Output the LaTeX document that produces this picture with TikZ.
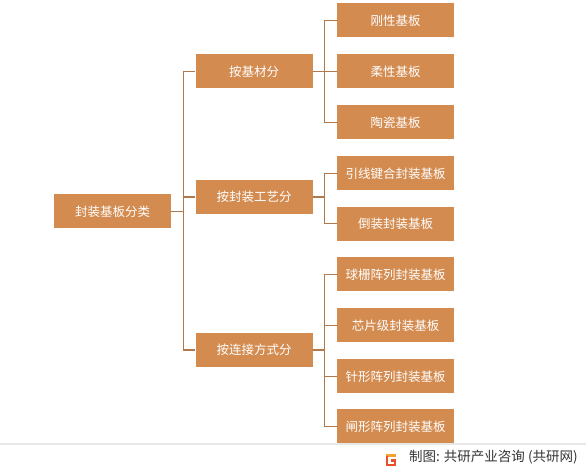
\documentclass[tikz,border=0pt]{standalone}
\usepackage{fontspec}
\setmainfont{Noto Sans CJK SC}
\usetikzlibrary{positioning}
\definecolor{BoxOrange}{HTML}{D38B4F}
\definecolor{LinkBrown}{HTML}{B07A4E}
\definecolor{NoteGray}{HTML}{333333}
\definecolor{RuleGray}{HTML}{E8E8E8}
\definecolor{LogoOrange}{HTML}{F5A030}
\definecolor{LogoRed}{HTML}{E9502E}

\begin{document}
\begin{tikzpicture}[
      x=1pt, y=-1pt,
      font=\fontsize{12.5}{14}\selectfont,
      catbox/.style={fill=BoxOrange,text=white,minimum width=117pt,minimum height=34pt,inner sep=0pt},
      link/.style={draw=LinkBrown,line width=1.2pt}
    ]
      \useasboundingbox (0,0) rectangle (586,470);
      \draw[RuleGray,line width=1.5pt] (0,444) -- (586,444);
      % root and first level
      \node[catbox] (root) at (112.5,211.5) {封装基板分类};
      \node[catbox] (byMat) at (254,71.5) {按基材分};
      \node[catbox] (byProc) at (254,197) {按封装工艺分};
      \node[catbox] (byLink) at (254,350) {按连接方式分};
      % second level
      \node[catbox] (rigid) at (395.5,20.5) {刚性基板};
      \node[catbox] (flex) at (395.5,71.3) {柔性基板};
      \node[catbox] (ceram) at (395.5,122.3) {陶瓷基板};
      \node[catbox] (wire) at (395.5,173.3) {引线键合封装基板};
      \node[catbox] (flip) at (395.5,223.7) {倒装封装基板};
      \node[catbox] (bga) at (395.5,274.3) {球栅阵列封装基板};
      \node[catbox] (csp) at (395.5,325.3) {芯片级封装基板};
      \node[catbox] (pga) at (395.5,376.3) {针形阵列封装基板};
      \node[catbox] (lga) at (395.5,426.3) {闸形阵列封装基板};
      % connectors
      \draw[link] (root.east) -- ++(12,0) |- (byMat.west);
      \draw[link] (root.east) -- ++(12,0) |- (byProc.west);
      \draw[link] (root.east) -- ++(12,0) |- (byLink.west);
      \draw[link] (byMat.east) -- ++(12,0) |- (rigid.west);
      \draw[link] (byMat.east) -- ++(12,0) |- (flex.west);
      \draw[link] (byMat.east) -- ++(12,0) |- (ceram.west);
      \draw[link] (byProc.east) -- ++(12,0) |- (wire.west);
      \draw[link] (byProc.east) -- ++(12,0) |- (flip.west);
      \draw[link] (byLink.east) -- ++(12,0) |- (bga.west);
      \draw[link] (byLink.east) -- ++(12,0) |- (csp.west);
      \draw[link] (byLink.east) -- ++(12,0) |- (pga.west);
      \draw[link] (byLink.east) -- ++(12,0) |- (lga.west);
      % source note
      \draw[LogoOrange,line width=2.4pt] (395.5,455.5) -- (386,455.5);
      \draw[LogoRed,line width=2.4pt] (387.2,455.5) -- (387.2,465) -- (395,465) -- (395,460.5) -- (390.5,460.5);
      \node[anchor=west,text=NoteGray,inner sep=0pt,font=\fontsize{13.5}{15}\selectfont] (credit) at (409,457.5) {制图: 共研产业咨询 (共研网)};
    \end{tikzpicture}
\end{document}
